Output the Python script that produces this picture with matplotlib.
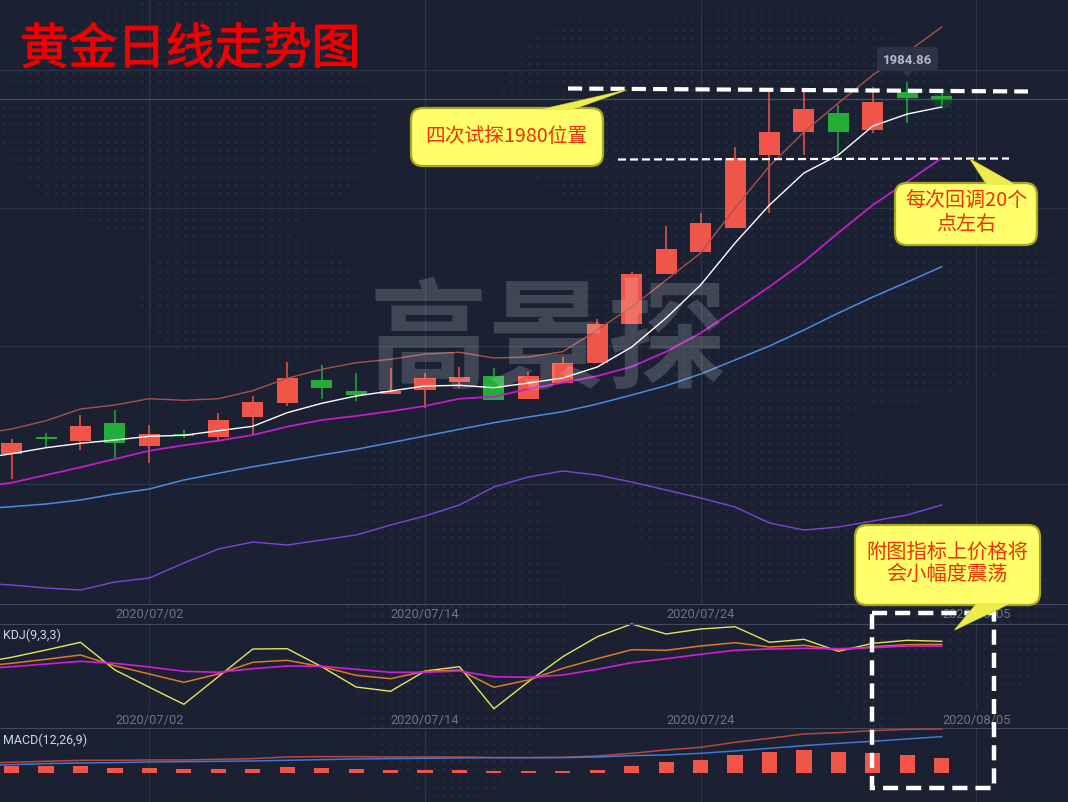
import numpy as np
import matplotlib
matplotlib.use("Agg")
import matplotlib.pyplot as plt
import matplotlib.patheffects as pe
from matplotlib.patches import FancyBboxPatch, Polygon, Rectangle

plt.rcParams['font.family'] = ['Noto Sans CJK SC', 'DejaVu Sans']

# ---------- data ----------
tick_pos = [4, 12, 20, 28]
tick_labels = ['2020/07/02', '2020/07/14', '2020/07/24', '2020/08/05']
grid_prices = [1991, 1922, 1853, 1784]
last_price = 1976.5

opens = [1799.15, 1807.5, 1805.5, 1814.5, 1803, 1808.85, 1807.5, 1817.5, 1824.5, 1836, 1830.65, 1829.15, 1831, 1835,
         1838, 1826.5, 1834.5, 1844.5, 1864, 1889, 1900, 1912, 1948.5, 1960, 1969.5, 1961, 1979.85, 1978]
highs = [1806.5, 1809.5, 1818.5, 1821, 1813.35, 1811, 1819.65, 1828.15, 1845, 1843.5, 1839.35, 1841.85, 1839.65, 1842.65,
         1841.85, 1840, 1847.5, 1866.5, 1890, 1913, 1919.5, 1952.5, 1980, 1980, 1973.5, 1982.5, 1984.86, 1979.65]
lows = [1786.5, 1802.15, 1801, 1796.65, 1794.35, 1806.85, 1805, 1808.5, 1823.15, 1826.35, 1825.5, 1829.15, 1822.15, 1831.85,
        1826, 1826.5, 1834.5, 1844.5, 1864, 1889, 1900, 1912, 1919.5, 1948.5, 1947, 1959.5, 1964.5, 1973.5]
closes = [1804.5, 1806.65, 1813, 1804.65, 1808.85, 1808, 1816, 1825, 1837, 1832, 1828.5, 1830.65, 1837, 1837.5,
          1826, 1838, 1844.5, 1864, 1889, 1901.5, 1914.5, 1947, 1960, 1971.5, 1960, 1975, 1977, 1976.35]

boll_upper = [1809, 1811.5, 1815.65, 1821.5, 1823.5, 1826.65, 1825.85, 1826.65, 1830.65, 1836.85, 1841.35, 1844.65, 1846.35, 1849,
              1849.85, 1847, 1847.5, 1850.15, 1861, 1872.5, 1886, 1899.5, 1922, 1943, 1960, 1974.5, 1988.5, 2000, 2012.5]
ma_white = [1796.5, 1799.15, 1802.15, 1804.35, 1806, 1807.85, 1808.35, 1810.65, 1812.85, 1819.65, 1824.35, 1828, 1830.5, 1833,
            1833.35, 1832.15, 1834.5, 1837, 1842.5, 1852.5, 1867, 1883.5, 1904.5, 1923.5, 1939.5, 1948.5, 1963, 1969, 1972.5]
ma_magenta = [1782.5, 1784.65, 1788.5, 1792.35, 1796.5, 1800.65, 1803.35, 1805.65, 1808.5, 1812.65, 1816, 1818, 1820.35, 1823,
              1826.65, 1827.65, 1831.5, 1834.65, 1838, 1842.65, 1850.15, 1859.5, 1871, 1882.65, 1895.15, 1909.65, 1923.5, 1935.15, 1947]
ma_blue = [1771.5, 1772.65, 1774, 1776, 1779, 1781.5, 1786, 1789.35, 1792.65, 1795.5, 1798.5, 1801.35, 1804.65, 1808,
           1811.35, 1814.65, 1817.5, 1820.15, 1824, 1828.5, 1833.15, 1839, 1846, 1853, 1861, 1869.5, 1877.5, 1885, 1892.65]
ma_purple = [1734.5, 1733.5, 1732, 1731, 1735, 1737, 1744.5, 1751.5, 1755, 1753.5, 1756, 1758.5, 1763.5, 1768,
             1773.5, 1782.5, 1787.5, 1790.5, 1788.5, 1785, 1781, 1777, 1772.5, 1764.5, 1761, 1762.5, 1765.5, 1768.5, 1773.5]

kdj_j = [58.7, 64.7, 72, 79.7, 52, 34.7, 17.7, 45.3, 73, 73.3, 55.3, 35, 30.7, 51, 55.3, 13.3, 40.3,
         65.3, 85.3, 98, 88, 93, 95.3, 79.7, 82.7, 70.7, 78.7, 81.7, 80.7]
kdj_k = [55.3, 58.7, 62.7, 67, 56.3, 48, 39.7, 48, 59.7, 61.7, 55.3, 46.7, 43.3, 50.7, 52, 34.7, 42,
         53.7, 63.3, 72.3, 71.7, 76, 79.3, 75, 76.7, 72, 75.3, 77.3, 77.7]
kdj_d = [53, 55.3, 58, 60.7, 58.7, 55, 50.7, 49.7, 53.3, 56, 55.7, 52.7, 49.7, 49.7, 51, 45.3, 44.7,
         47, 52.7, 59.3, 63.3, 67.7, 71.7, 73, 73.7, 73.3, 74.3, 76, 76]

macd_dif = [5, 5.5, 6, 6.5, 6.5, 6.67, 6.67, 7, 7.33, 8.17, 8.33, 8.33, 8.17, 8.17, 8.17, 7.83, 7.83,
            8, 8.67, 10, 11.67, 13, 15.5, 17.5, 19.67, 20.33, 21.33, 22, 22.17]
macd_dea = [3.83, 4.33, 4.83, 5.17, 5.33, 5.67, 5.83, 6, 6.17, 6.5, 6.83, 7.17, 7.33, 7.5, 7.67, 7.83, 7.83,
            7.83, 8.17, 8.83, 9.17, 10, 11.17, 12.5, 13.83, 15, 16, 17.17, 18.33]
macd_hist = [3.5, 3.67, 3.67, 2.67, 2.67, 2.17, 2.17, 2.17, 3, 2.5, 2.17, 1.67, 1.67, 1.67, 1.0, 1.0,
             1.2, 1.67, 3.67, 5.67, 6.67, 9.17, 10.67, 11.67, 10.67, 10.17, 9.17, 7.67]

# ---------- style ----------
W, H = 1068, 802
BG = '#1b2132'
GRID = '#2d3446'
SEP = '#434a5c'
RED = '#ef5548'
GREEN = '#22ac38'
LABEL = '#6d7485'
YEL = '#ffff6c'
YEL_EDGE = '#a9a61f'
TXT_RED = '#f03200'

fig = plt.figure(figsize=(W / 100, H / 100), dpi=100, facecolor=BG)


def panel(top, bottom):
    return fig.add_axes([0, 1 - bottom / H, 1, (bottom - top) / H])


XLIM = ((0 - 11.6) / 34.45, (W - 11.6) / 34.45)
cand_x = np.arange(len(opens))
line_x = np.arange(-1, len(opens))

# background dotted map
bg = fig.add_axes([0, 0, 1, 1], zorder=0)
bg.set_xlim(0, W); bg.set_ylim(H, 0); bg.axis('off')
bg.set_facecolor(BG)
gx, gy = np.meshgrid(np.arange(4, W, 8.6), np.arange(4, H, 8.6))
blobs = [(190, 120, 190, 120), (250, 300, 110, 70), (455, 620, 110, 180), (440, 470, 90, 50),
         (590, 110, 90, 90), (760, 130, 210, 120), (820, 300, 240, 110), (740, 480, 120, 110),
         (880, 600, 60, 130), (990, 620, 70, 70)]
mask = np.zeros_like(gx, dtype=bool)
for cx, cy, rx, ry in blobs:
    mask |= ((gx - cx) / rx) ** 2 + ((gy - cy) / ry) ** 2 < 1
bg.scatter(gx[mask], gy[mask], s=5, color='#222a3c', linewidths=0)


def style(ax):
    ax.set_facecolor('none')
    ax.set_xlim(*XLIM)
    for s in ax.spines.values():
        s.set_visible(False)
    ax.set_yticks([])
    ax.set_xticks(tick_pos)
    ax.grid(axis='x', color=GRID, lw=0.8)
    ax.set_axisbelow(True)
    ax.tick_params(axis='x', length=0, pad=3, labelsize=9.3, labelcolor=LABEL)


# ---------- main panel ----------
ax = panel(0, 604)
ax.set_zorder(2)
style(ax)
ax.set_ylim(2026 - 604 / 2, 2026)
ax.set_xticklabels(tick_labels, family=['Roboto', 'DejaVu Sans'])
ax.spines['bottom'].set_visible(True)
ax.spines['bottom'].set_color(SEP)
for p in grid_prices:
    ax.axhline(p, color=GRID, lw=0.8, zorder=0.5)
ax.axhline(last_price, color='#3f5a4a', lw=0.9, zorder=0.6)

o, h, l, c = map(np.array, (opens, highs, lows, closes))
cols = [RED if ci >= oi else GREEN for oi, ci in zip(o, c)]
ax.vlines(cand_x, l, h, colors=cols, lw=1.1, zorder=3)
ax.bar(cand_x, np.maximum(np.abs(c - o), 0.6), bottom=np.minimum(o, c), width=0.61, color=cols, zorder=3)
ax.scatter([cand_x[-1]], [c[-1]], s=200, color=GREEN, alpha=0.2, linewidths=0, zorder=2.5)

ax.plot(line_x, boll_upper, color='#a8524c', lw=1.0, zorder=4)
ax.plot(line_x, ma_white, color='#ffffff', lw=1.0, zorder=4)
ax.plot(line_x, ma_magenta, color='#c01fc8', lw=1.3, zorder=4)
ax.plot(line_x, ma_blue, color='#4a8be0', lw=1.1, zorder=4)
ax.plot(line_x, ma_purple, color='#7d45d6', lw=1.0, zorder=4)

# ---------- KDJ panel ----------
ak = panel(623.5, 710)
ak.set_zorder(2)
style(ak)
ak.set_ylim(12, 98.5)
ak.set_xticklabels(tick_labels, family=['Roboto', 'DejaVu Sans'])
ak.spines['top'].set_visible(True)
ak.spines['top'].set_color(SEP)
ak.plot(line_x, kdj_j, color='#e6e65a', lw=1.0, clip_on=False)
ak.plot(line_x, kdj_k, color='#dd7a22', lw=1.1)
ak.plot(line_x, kdj_d, color='#cf1fd8', lw=1.2)

# ---------- MACD panel ----------
am = panel(728.3, 802)
am.set_zorder(2)
style(am)
am.set_xticklabels([])
am.set_ylim((773.3 - 802) / 2, (773.3 - 728.3) / 2)
am.spines['top'].set_visible(True)
am.spines['top'].set_color(SEP)
am.bar(cand_x, macd_hist, width=0.44, color=RED, zorder=3)
am.plot(line_x, macd_dif, color='#b8473f', lw=1.1, zorder=4)
am.plot(line_x, macd_dea, color='#3f78d8', lw=1.1, zorder=4)

# ---------- annotation overlay in pixel coordinates ----------
ov = fig.add_axes([0, 0, 1, 1], zorder=5)
ov.set_xlim(0, W); ov.set_ylim(H, 0); ov.axis('off'); ov.patch.set_alpha(0)

ov.text(548, 344, '高景探', fontsize=86, color='white', alpha=0.17, weight='bold', ha='center', va='center')
title = ov.text(20, 50, '黄金日线走势图', fontsize=35, color='#f00000', ha='left', va='center')
title.set_path_effects([pe.withStroke(linewidth=0.8, foreground='#f00000')])

ov.text(3, 635, 'KDJ(9,3,3)', fontsize=9, color='#d2d6de', va='center', family=['Roboto', 'DejaVu Sans'])
ov.text(3, 740, 'MACD(12,26,9)', fontsize=9, color='#d2d6de', va='center', family=['Roboto', 'DejaVu Sans'])

# last price tag
ov.add_patch(FancyBboxPatch((879, 49), 57, 20, boxstyle='round,pad=0,rounding_size=2', fc='#2a3348', ec='#2a3348', lw=3))
ov.add_patch(Polygon([(902, 71), (913, 71), (907.5, 77)], fc='#2a3348', ec='none'))
ov.text(907.5, 60, '1984.86', fontsize=9.5, color='#b4bac8', weight='bold', ha='center', va='center',
        family=['Roboto', 'DejaVu Sans'])

# dashed levels
ov.plot([568, 1028], [88.5, 91.5], color='white', lw=3, dashes=(3.4, 1.7), solid_capstyle='butt', dash_capstyle='butt')
ov.plot([618, 1009], [159.5, 158.5], color='white', lw=1.6, dashes=(3.6, 1.8), dash_capstyle='butt')
ov.add_patch(Rectangle((872, 612.7), 122, 175.3, fill=False, ec='white', lw=3.2, ls=(0, (3.4, 1.8))))


def callout(x0, y0, x1, y1, ptr):
    ov.add_patch(Polygon(ptr, fc='#dcdc3c', ec=YEL_EDGE, lw=0.8, zorder=6))
    ov.add_patch(FancyBboxPatch((x0 + 12, y0 + 12), x1 - x0 - 24, y1 - y0 - 24,
                                boxstyle='round,pad=12,rounding_size=12', fc=YEL, ec=YEL_EDGE, lw=1.6, zorder=6))
    ov.add_patch(Polygon(ptr, fc='#ecec4c', ec='none', zorder=6.5))


callout(411, 108, 603, 166, [(539, 110), (626.5, 90), (571, 110)])
callout(895, 183, 1037, 245, [(987, 185), (970, 159), (1016, 185)])
callout(855, 525, 1040, 605, [(977, 603), (954.6, 630), (1011, 603)])

kw = dict(color=TXT_RED, ha='center', va='center', zorder=7)
ov.text(506, 136, '四次试探1980位置', fontsize=14.2, **kw)
ov.text(966, 200, '每次回调20个', fontsize=14.4, **kw)
ov.text(966, 224, '点左右', fontsize=14.4, **kw)
ov.text(947, 552, '附图指标上价格将', fontsize=14.6, **kw)
ov.text(947, 574, '会小幅度震荡', fontsize=14.6, **kw)

fig.savefig('out.png', dpi=100, facecolor=BG)
